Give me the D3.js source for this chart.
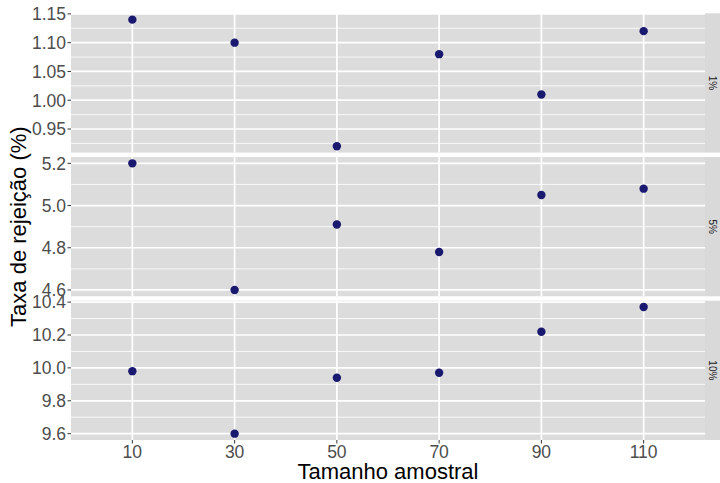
<!DOCTYPE html>
<meta charset="utf-8">
<html>
<head>
<title>Taxa de rejeição</title>
<script src="https://cdnjs.cloudflare.com/ajax/libs/d3/7.8.5/d3.min.js"></script>
<style>
body {
  margin: 0px;
  background: #fff;
}
text {
  font-family: "Liberation Sans", Arial, sans-serif;
}
.tick-label { font-size: 17.5px; fill: #4D4D4D; }
.axis-title { font-size: 22px; fill: #000; }
.strip-label { font-size: 10px; fill: #1A1A1A; }
</style>
</head>
<body>
<div class="target"></div>
<script>
// sample sizes (discrete x) and facet levels
var sampleSizes = ["10", "30", "50", "70", "90", "110"];
var levels = ["1%", "5%", "10%"];

// rejection rates (%), one array per facet
var rate1 = [1.14, 1.10, 0.92, 1.08, 1.01, 1.12];
var rate5 = [5.20, 4.60, 4.91, 4.78, 5.05, 5.08];
var rate10 = [9.98, 9.60, 9.94, 9.97, 10.22, 10.37];

// y breaks per facet
var ticks1 = [0.95, 1.00, 1.05, 1.10, 1.15];
var ticks5 = [4.6, 4.8, 5.0, 5.2];
var ticks10 = [9.6, 9.8, 10.0, 10.2, 10.4];

drawChart();

function drawChart() {
  'use strict';

  var tickFmt1 = d3.format(".2f"), tickFmt = d3.format(".1f");

  var width = 720, height = 483;
  var left = 71, right = 705, panelTop = 13.3, panelBottom = 440;

  var svg = d3.select('body').append('svg')
    .attr('width', width)
    .attr('height', height);

  // discrete x with 0.6 expansion on each side
  var x = d3.scalePoint()
    .domain(sampleSizes)
    .range([left, right])
    .padding(0.6);

  var facet = d3.scaleBand()
    .domain(levels)
    .range([panelTop, panelBottom])
    .paddingInner(0.0306);

  var panels = [
    {level: "1%", values: rate1, ticks: ticks1, fmt: tickFmt1},
    {level: "5%", values: rate5, ticks: ticks5, fmt: tickFmt},
    {level: "10%", values: rate10, ticks: ticks10, fmt: tickFmt}
  ];

  panels.forEach(function(p) {
    var y0 = facet(p.level), h = facet.bandwidth();
    var ext = d3.extent(p.values), pad = (ext[1] - ext[0]) * 0.05;
    var y = d3.scaleLinear()
      .domain([ext[0] - pad, ext[1] + pad])
      .range([y0 + h, y0]);

    var g = svg.append('g');

    g.append('rect')
      .attr('x', left).attr('y', y0)
      .attr('width', right - left).attr('height', h)
      .attr('fill', '#DCDCDC');

    // minor grid lines halfway between breaks
    var step = p.ticks[1] - p.ticks[0];
    var minors = [p.ticks[0] - step / 2].concat(p.ticks.map(function(t) { return t + step / 2; }))
      .filter(function(m) { return m >= y.domain()[0] && m <= y.domain()[1]; });

    g.selectAll('.minor')
      .data(minors)
      .enter().append('line')
        .attr('class', 'minor')
        .attr('x1', left).attr('x2', right)
        .attr('y1', function(d) { return y(d); })
        .attr('y2', function(d) { return y(d); })
        .attr('stroke', '#fff')
        .attr('stroke-width', 0.8);

    g.selectAll('.major')
      .data(p.ticks)
      .enter().append('line')
        .attr('class', 'major')
        .attr('x1', left).attr('x2', right)
        .attr('y1', function(d) { return y(d); })
        .attr('y2', function(d) { return y(d); })
        .attr('stroke', '#fff')
        .attr('stroke-width', 1.7);

    g.selectAll('.vmajor')
      .data(sampleSizes)
      .enter().append('line')
        .attr('class', 'vmajor')
        .attr('x1', function(d) { return x(d); })
        .attr('x2', function(d) { return x(d); })
        .attr('y1', y0).attr('y2', y0 + h)
        .attr('stroke', '#fff')
        .attr('stroke-width', 1.7);

    // y ticks + labels
    g.selectAll('.ytick')
      .data(p.ticks)
      .enter().append('line')
        .attr('class', 'ytick')
        .attr('x1', left - 3.5).attr('x2', left)
        .attr('y1', function(d) { return y(d); })
        .attr('y2', function(d) { return y(d); })
        .attr('stroke', '#333')
        .attr('stroke-width', 1);

    g.selectAll('.ylab')
      .data(p.ticks)
      .enter().append('text')
        .attr('class', 'tick-label ylab')
        .attr('x', left - 5)
        .attr('y', function(d) { return y(d); })
        .attr('dy', '0.36em')
        .attr('text-anchor', 'end')
        .text(function(d) { return p.fmt(d); });

    g.selectAll('circle')
      .data(p.values)
      .enter().append('circle')
        .attr('cx', function(d, i) { return x(sampleSizes[i]); })
        .attr('cy', function(d) { return y(d); })
        .attr('r', 4.2)
        .attr('fill', '#191970');

    // facet strip on the right
    g.append('rect')
      .attr('x', right).attr('y', y0)
      .attr('width', width - right).attr('height', h)
      .attr('fill', '#D9D9D9');

    g.append('text')
      .attr('class', 'strip-label')
      .attr('transform', 'translate(' + (right + 7.5) + ',' + (y0 + h / 2) + ') rotate(90)')
      .attr('text-anchor', 'middle')
      .attr('dy', '0.35em')
      .text(p.level);
  });

  // x axis ticks + labels under the last panel
  svg.selectAll('.xtick')
    .data(sampleSizes)
    .enter().append('line')
      .attr('class', 'xtick')
      .attr('x1', function(d) { return x(d); })
      .attr('x2', function(d) { return x(d); })
      .attr('y1', panelBottom).attr('y2', panelBottom + 3.5)
      .attr('stroke', '#333')
      .attr('stroke-width', 1);

  svg.selectAll('.xlab')
    .data(sampleSizes)
    .enter().append('text')
      .attr('class', 'tick-label xlab')
      .attr('x', function(d) { return x(d); })
      .attr('y', 457.5)
      .attr('text-anchor', 'middle')
      .text(function(d) { return d; });

  svg.append('text')
    .attr('class', 'axis-title')
    .attr('x', (left + right) / 2)
    .attr('y', 479)
    .attr('text-anchor', 'middle')
    .text('Tamanho amostral');

  svg.append('text')
    .attr('class', 'axis-title')
    .attr('transform', 'translate(26,' + ((panelTop + panelBottom) / 2) + ') rotate(-90)')
    .attr('text-anchor', 'middle')
    .text('Taxa de rejeição (%)');
}
</script>
</body>
</html>
